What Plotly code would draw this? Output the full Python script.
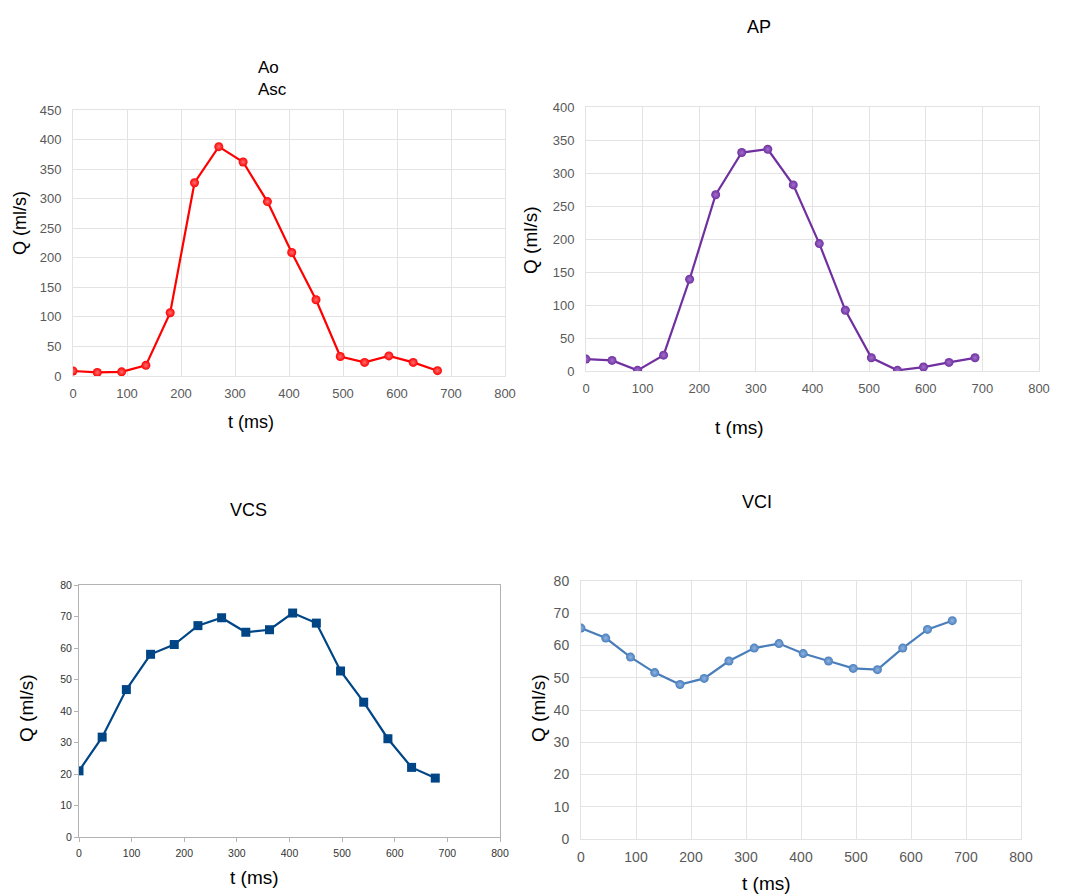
import plotly.graph_objects as go

# ---------------- data ----------------
ao_t = [0, 45, 90, 135, 180, 225, 270, 315, 360, 405, 450, 495, 540, 585, 630, 675]
ao_q = [8.5, 6, 7, 18, 107, 327, 388, 362, 295, 209, 129, 33, 23, 34, 23, 9]

ap_t = [0, 46, 91, 137, 183, 229, 275, 321, 366, 412, 458, 504, 550, 596, 641, 687]
ap_q = [18, 16, 1, 24, 139, 267, 331, 336, 282, 193, 92, 20, 1, 6, 13, 20]

vcs_t = [0, 44, 90, 136, 181, 226, 271, 317, 362, 406, 451, 497, 541, 587, 632, 677]
vcs_q = [21, 31.7, 46.8, 58, 61.1, 67.1, 69.6, 65, 65.8, 71.1, 67.9, 52.7, 42.8, 31.2, 22.1, 18.7]

vci_t = [0, 45, 90, 134, 180, 224, 269, 315, 360, 404, 450, 495, 539, 585, 630, 675]
vci_q = [65.4, 62.3, 56.4, 51.6, 47.9, 49.8, 55.2, 59.2, 60.6, 57.5, 55.2, 52.9, 52.5, 59.2, 65, 67.7]

x_ticks = [0, 100, 200, 300, 400, 500, 600, 700, 800]
ao_yticks = [0, 50, 100, 150, 200, 250, 300, 350, 400, 450]
ap_yticks = [0, 50, 100, 150, 200, 250, 300, 350, 400]
v_yticks = [0, 10, 20, 30, 40, 50, 60, 70, 80]

titles = ["Ao<br>Asc", "AP", "VCS", "VCI"]
x_label = "t (ms)"
y_label = "Q (ml/s)"

# ---------------- figure ----------------
W, H = 1090, 895
FONT = "Liberation Sans, Arial, sans-serif"
GRID = "#e3e3e3"
TICKC = "#595959"

def px_x(p):
    return p / W

def px_y(p):
    return 1 - p / H

fig = go.Figure()

def add_series(t, q, xa, ya, color, symbol, size, light):
    fig.add_trace(go.Scatter(
        x=t, y=q, xaxis=xa, yaxis=ya, mode="lines+markers",
        line=dict(color=color, width=2.2),
        marker=dict(symbol=symbol, size=size, color=color,
                    gradient=dict(type="radial", color=light) if light else None,
                    line=dict(width=0)),
        showlegend=False, hoverinfo="x+y"))

add_series(ao_t, ao_q, "x", "y", "#ff0000", "circle", 9, "#ff7070")
add_series(ap_t, ap_q, "x2", "y2", "#7030a0", "circle", 9, "#a070cc")
add_series(vcs_t, vcs_q, "x3", "y3", "#004586", "square", 9, None)
add_series(vci_t, vci_q, "x4", "y4", "#4a7ebb", "circle", 9, "#8fb4e3")

def excel_axes(dx, dy, yticks, ymax, anchor_x, anchor_y, fs):
    xa = dict(domain=dx, range=[0, 800], tickvals=x_ticks, showgrid=True,
              gridcolor=GRID, gridwidth=1, zeroline=False, showline=True,
              linecolor=GRID, linewidth=1, mirror=True, ticks="",
              tickfont=dict(family=FONT, size=fs, color=TICKC), anchor=anchor_y,
              ticklabelstandoff=5, automargin=False, fixedrange=True)
    ya = dict(domain=dy, range=[0, ymax], tickvals=yticks, showgrid=True,
              gridcolor=GRID, gridwidth=1, zeroline=False, showline=True,
              linecolor=GRID, linewidth=1, mirror=True, ticks="",
              tickfont=dict(family=FONT, size=fs, color=TICKC), anchor=anchor_x,
              ticklabelstandoff=8, automargin=False, fixedrange=True)
    return xa, ya

d1x = [px_x(73), px_x(505)]; d1y = [px_y(376), px_y(110)]
d2x = [px_x(586), px_x(1039)]; d2y = [px_y(371), px_y(107)]
d3x = [px_x(79), px_x(500)]; d3y = [px_y(837), px_y(585)]
d4x = [px_x(581), px_x(1021)]; d4y = [px_y(839), px_y(581)]

x1, y1 = excel_axes(d1x, d1y, ao_yticks, 450, "x", "y", 13)
x2, y2 = excel_axes(d2x, d2y, ap_yticks, 400, "x2", "y2", 13)
x4, y4 = excel_axes(d4x, d4y, v_yticks, 80, "x4", "y4", 14)

x3 = dict(domain=d3x, range=[0, 800], tickvals=x_ticks, showgrid=False,
          zeroline=False, showline=True, linecolor="#b3b3b3", linewidth=1,
          mirror=True, ticks="outside", ticklen=4, tickcolor="#b3b3b3",
          tickfont=dict(family=FONT, size=10.5, color="#333333"), anchor="y3",
          ticklabelstandoff=2, automargin=False, fixedrange=True)
y3 = dict(domain=d3y, range=[0, 80], tickvals=v_yticks, showgrid=False,
          zeroline=False, showline=True, linecolor="#b3b3b3", linewidth=1,
          mirror=True, ticks="outside", ticklen=4, tickcolor="#b3b3b3",
          tickfont=dict(family=FONT, size=10.5, color="#333333"), anchor="x3",
          automargin=False, fixedrange=True)

fig.update_layout(
    width=W, height=H, autosize=False,
    margin=dict(l=0, r=0, t=0, b=0, pad=0, autoexpand=False),
    paper_bgcolor="white", plot_bgcolor="white",
    xaxis=x1, yaxis=y1, xaxis2=x2, yaxis2=y2,
    xaxis3=x3, yaxis3=y3, xaxis4=x4, yaxis4=y4,
)

def label(text, x, y, size, angle=0, xanchor="center", align="center"):
    fig.add_annotation(text=text, x=px_x(x), y=px_y(y), xref="paper", yref="paper",
                       showarrow=False, textangle=angle, align=align,
                       font=dict(family=FONT, size=size, color="#000000"),
                       xanchor=xanchor, yanchor="middle")

# panel titles
label(titles[0], 256, 78, 17, xanchor="left", align="left")
label(titles[1], 759, 27, 18)
label(titles[2], 248, 510, 18)
label(titles[3], 757, 502, 18)

# axis titles
label(x_label, 251, 422, 18)
label(x_label, 739, 427, 19)
label(x_label, 254, 877, 19)
label(x_label, 766, 883, 19)

label(y_label, 20, 223, 18, -90)
label(y_label, 531, 240, 19, -90)
label(y_label, 26, 708, 19, -90)
label(y_label, 538, 708, 19, -90)

# remove the default page margin so the figure fills the window exactly
fig.write_html("out.html",
               config={"displayModeBar": False},
               post_script="document.body.style.margin='0';"
                           "document.body.style.overflow='hidden';")
